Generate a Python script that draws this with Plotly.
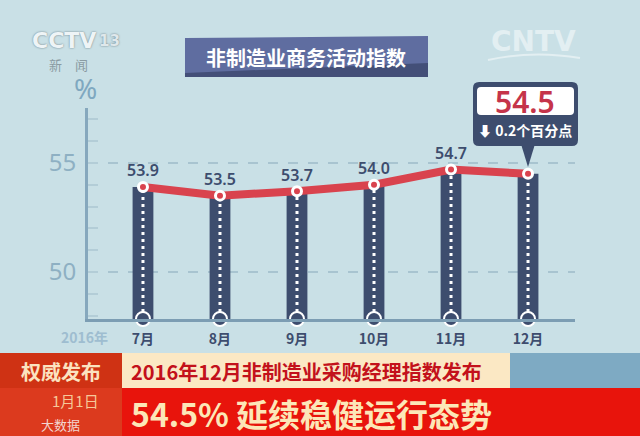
import plotly.graph_objects as go

# ---------------- data ----------------
months = ["7月", "8月", "9月", "10月", "11月", "12月"]
values = [53.9, 53.5, 53.7, 54.0, 54.7, 54.5]
y_ticks = [50, 55]
year_label = "2016年"
title_text = "非制造业商务活动指数"
callout_value = "54.5"
callout_change = "⬇ 0.2个百分点"
banner_tag = "权威发布"
banner_headline = "2016年12月非制造业采购经理指数发布"
banner_date = "1月1日"
banner_main = "54.5% 延续稳健运行态势"

# ---------------- helpers ----------------
W, H = 640, 436
Y_MIN, Y_MAX = 47.84, 57.52
X_MIN, X_MAX = -0.714, 5.61
CJK = "Noto Sans CJK SC"
BG = "#c9e0e6"
NAVY = "#3d4d6e"
RED = "#d9434e"


def px(x):
    return x / W


def py(y):
    return 1 - y / H


def rrect(x0, y0, x1, y1, r):
    pts = [
        ("M", [(x0 + r, y0)]), ("L", [(x1 - r, y0)]), ("Q", [(x1, y0), (x1, y0 + r)]),
        ("L", [(x1, y1 - r)]), ("Q", [(x1, y1), (x1 - r, y1)]), ("L", [(x0 + r, y1)]),
        ("Q", [(x0, y1), (x0, y1 - r)]), ("L", [(x0, y0 + r)]), ("Q", [(x0, y0), (x0 + r, y0)]),
    ]
    s = ""
    for cmd, ps in pts:
        s += cmd + " " + " ".join(f"{px(a):.5f},{py(b):.5f}" for a, b in ps) + " "
    return s + "Z"


def poly(points):
    return "M " + " L ".join(f"{px(a):.5f},{py(b):.5f}" for a, b in points) + " Z"


def label(x, y, text, font, xanchor="center"):
    return dict(x=px(x), y=py(y), xref="paper", yref="paper", text=text,
                xanchor=xanchor, yanchor="middle", showarrow=False, font=font)


idx = list(range(len(months)))

fig = go.Figure()

# bars
fig.add_trace(go.Bar(x=idx, y=values, width=0.27, marker_color=NAVY,
                     marker_line_width=0, hoverinfo="skip"))

# white dotted lines inside bars
dx, dy = [], []
for i, v in zip(idx, values):
    dx += [i, i, None]
    dy += [Y_MIN, v, None]
fig.add_trace(go.Scatter(x=dx, y=dy, mode="lines",
                         line=dict(color="white", width=3, dash="3px,4px"),
                         hoverinfo="skip"))

# red line with markers and labels
labels = [f"{v:.1f}" for v in values[:-1]] + [""]
fig.add_trace(go.Scatter(
    x=idx, y=values, mode="lines+markers+text", text=labels,
    textposition="top center",
    textfont=dict(family="Noto Sans", size=16, color=NAVY, weight=600),
    line=dict(color=RED, width=8),
    marker=dict(size=9, color=RED, line=dict(color="white", width=3)),
    hoverinfo="skip"))

# bottom circles
fig.add_trace(go.Scatter(
    x=idx, y=[Y_MIN] * len(idx), mode="markers", cliponaxis=False,
    marker=dict(size=14, color=NAVY, line=dict(color="white", width=2)),
    hoverinfo="skip"))

shapes = []
ann = []

# title banner
shapes.append(dict(type="path", xref="paper", yref="paper",
                   path=poly([(185, 38), (428, 36), (428, 77), (185, 77)]),
                   fillcolor="#5f6da0", line_width=0, layer="below"))
shapes.append(dict(type="path", xref="paper", yref="paper",
                   path=poly([(185, 73), (428, 63), (428, 77), (185, 77)]),
                   fillcolor="#434f78", line_width=0, layer="below"))
ann.append(label(306, 57, title_text, dict(family=CJK, size=20, color="white", weight="bold")))

# callout
shapes.append(dict(type="path", xref="paper", yref="paper",
                   path=poly([(521, 144), (535, 144), (528, 167)]),
                   fillcolor=NAVY, line_width=0))
shapes.append(dict(type="path", xref="paper", yref="paper",
                   path=rrect(473, 82, 578, 146, 6), fillcolor=NAVY, line_width=0))
shapes.append(dict(type="path", xref="paper", yref="paper",
                   path=rrect(477, 87, 574, 115, 4), fillcolor="white", line_width=0))
ann.append(label(525, 101, callout_value,
                 dict(family="Noto Sans", size=30, color="#c5344a", weight=600)))
ann.append(label(525, 130, callout_change,
                 dict(family=CJK, size=14, color="white", weight="bold")))

# % and year
ann.append(label(85, 88, "%", dict(family="Noto Sans", size=28, color="#7fa8c0")))
ann.append(label(84, 337, year_label, dict(family=CJK, size=14, color="#9ebdd0", weight="bold")))

# logos (watermarks)
ann.append(label(64, 40, "CCTV", dict(family="DejaVu Sans", size=22, color="#eef4f6", weight="bold",
                                      shadow="0px 0px 2px #60737c")))
ann.append(label(109, 41, "13", dict(family="DejaVu Sans", size=15, color="#dfe8eb", weight="bold",
                                     shadow="0px 0px 2px #60737c")))
ann.append(label(68, 64, "新　闻", dict(family=CJK, size=13, color="#8a9ba2")))
ann.append(label(533, 42, "CNTV", dict(family="DejaVu Sans", size=28, color="#e3eff2", weight="bold")))
shapes.append(dict(type="path", xref="paper", yref="paper",
                   path=f"M {px(488):.5f},{py(60):.5f} Q {px(533):.5f},{py(50):.5f} {px(580):.5f},{py(58):.5f}",
                   line=dict(color="#e3eff2", width=2)))

# bottom banner
shapes += [
    dict(type="rect", xref="paper", yref="paper", x0=px(0), x1=px(122), y0=py(388), y1=py(353),
         fillcolor="#cf3214", line_width=0),
    dict(type="rect", xref="paper", yref="paper", x0=px(122), x1=px(510), y0=py(388), y1=py(353),
         fillcolor="#fbe8c4", line_width=0),
    dict(type="rect", xref="paper", yref="paper", x0=px(510), x1=px(640), y0=py(388), y1=py(353),
         fillcolor="#7eaac3", line_width=0),
    dict(type="rect", xref="paper", yref="paper", x0=px(0), x1=px(640), y0=py(436), y1=py(388),
         fillcolor="#e8140c", line_width=0),
    dict(type="rect", xref="paper", yref="paper", x0=px(0), x1=px(122), y0=py(436), y1=py(388),
         fillcolor="#dc3a1e", line_width=0),
]
ann.append(label(61, 371, banner_tag, dict(family=CJK, size=20, color="#fbe3c0", weight="bold")))
ann.append(label(129, 371, banner_headline, dict(family=CJK, size=20, color="#c3111b", weight="bold"),
                 xanchor="left"))
ann.append(label(75, 400, banner_date, dict(family=CJK, size=15, color="#f6c89a")))
ann.append(label(60, 424, "大数据", dict(family=CJK, size=13, color="#f3d6d0")))
ann.append(label(129, 413, banner_main, dict(family=CJK, size=32, color="#fce7b8", weight="bold"),
                 xanchor="left"))

fig.update_layout(
    width=W, height=H, margin=dict(l=0, r=0, t=0, b=0),
    paper_bgcolor=BG, plot_bgcolor=BG, showlegend=False, hovermode=False,
    shapes=shapes, annotations=ann,
    xaxis=dict(domain=[px(88), px(575)], range=[X_MIN, X_MAX], tickvals=idx, ticktext=months,
               showgrid=False, zeroline=False, showline=True, linecolor="#7c9db3", linewidth=3,
               ticks="", ticklabelstandoff=5,
               tickfont=dict(family=CJK, size=14, color=NAVY, weight="bold")),
    yaxis=dict(domain=[py(319), py(108)], range=[Y_MIN, Y_MAX], tickvals=y_ticks,
               showgrid=True, gridcolor="#a8c4d0", gridwidth=2, griddash="10px,10px",
               zeroline=False, showline=True, linecolor="#86a8bd", linewidth=3,
               ticks="", ticklabelstandoff=4,
               tickfont=dict(family="Noto Sans", size=24, color="#8eb0c3"),
               minor=dict(dtick=1, tick0=0, ticks="inside", ticklen=10,
                          tickcolor="#b3cdd7", tickwidth=2, showgrid=False)),
)

fig.write_html("out.html", config={"displayModeBar": False},
               post_script="document.body.style.margin='0';document.body.style.background='" + BG + "';")
